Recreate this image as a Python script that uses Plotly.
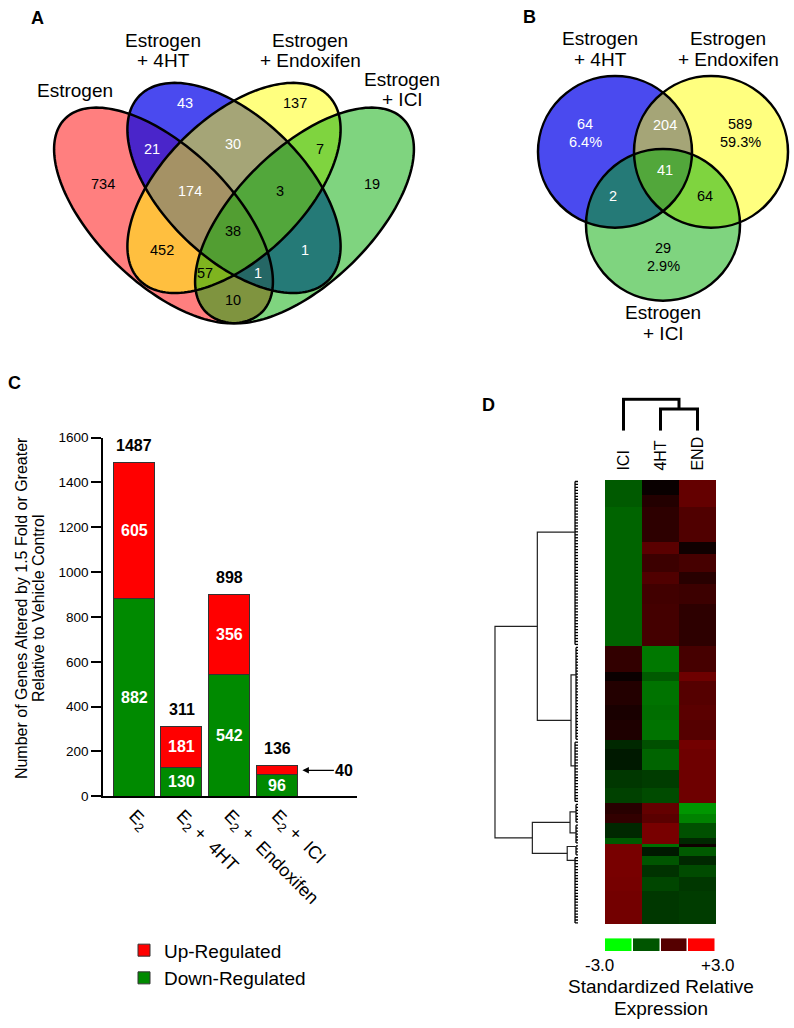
import numpy as np
import plotly.graph_objects as go

W, H = 794, 1028
FONT = "Liberation Sans, Arial, Helvetica, sans-serif"

# ===================== DATA =====================
# Panel A: four-set Venn (counts per region)
venn4_sets = ["Estrogen", "Estrogen<br>+ 4HT", "Estrogen<br>+ Endoxifen", "Estrogen<br>+ ICI"]
venn4_regions = ["E", "4HT", "END", "ICI", "E+4HT", "4HT+END", "END+ICI", "E+END", "4HT+ICI",
                 "E+ICI", "E+4HT+END", "4HT+END+ICI", "E+END+ICI", "E+4HT+ICI", "ALL"]
venn4_counts = [734, 43, 137, 19, 21, 30, 7, 452, 1, 10, 174, 3, 57, 1, 38]

# Panel B: three-set Venn
venn3_sets = ["Estrogen<br>+ 4HT", "Estrogen<br>+ Endoxifen", "Estrogen<br>+ ICI"]
venn3_regions = ["4HT", "4HT+END", "END", "ALL", "4HT+ICI", "END+ICI", "ICI"]
venn3_counts = [64, 204, 589, 41, 2, 64, 29]
venn3_percent = ["6.4%", "", "59.3%", "", "", "", "2.9%"]

# Panel C: stacked bars
treatments = ["E<sub>2</sub>", "E<sub>2</sub> +  4HT", "E<sub>2</sub> +  Endoxifen", "E<sub>2</sub> +  ICI"]
down_regulated = [882, 130, 542, 96]
up_regulated = [605, 181, 356, 40]
count_ticks = [0, 200, 400, 600, 800, 1000, 1200, 1400, 1600]

# Panel D: clustered heatmap (blocks of genes with similar standardized expression)
heat_columns = ["ICI", "4HT", "END"]
block_genes = [5, 4, 12, 4, 6, 4, 7, 14, 9, 3, 8, 5, 7, 3, 7, 6, 5, 4, 3, 5, 2, 1, 3, 3, 4, 5, 11]
ici_expr = [-1.06, -1.06, -1.18, -1.18, -1.18, -1.18, -1.18, -1.18,
            0.59, 0.12, 0.41, 0.29, 0.35, -0.47, -0.29, -0.65, -0.76,
            0.47, 0.59, -0.47, -1.06, 1.41, 1.41, 1.41, 1.41, 1.39, 1.35]
hht_expr = [0.10, 0.41, 0.53, 1.06, 0.71, 0.94, 0.76, 0.80,
            -1.41, -1.06, -1.35, -1.29, -1.35, -0.94, -1.18, -0.71, -0.88,
            1.18, 1.06, 1.41, 1.41, -1.29, -0.29, -1.00, -0.59, -0.82, -0.65]
end_expr = [1.18, 1.18, 0.94, 0.18, 0.82, 0.47, 0.71, 0.53,
            0.82, 1.29, 1.00, 1.06, 1.00, 1.35, 1.29, 1.29, 1.29,
            -1.76, -1.53, -0.94, -0.47, 0.18, -1.06, -0.47, -0.88, -0.65, -0.71]
colour_key = [-3.0, -1.0, 1.0, 3.0]

# row dendrogram: leaf groups (first block, last block), their merge height and node position (gene index)
row_group_first = [0, 8, 13, 17, 19, 21, 23]
row_group_last = [7, 12, 16, 18, 20, 22, 26]
row_group_height = [0.036, 0.024, 0.036, 0.024, 0.024, 0.024, 0.036]
row_group_node = [17.1, 65.3, 96.0, 111.5, 118.6, 123.2, 127.9]
row_merges = [(1, 2, 0.084), (3, 4, 0.096), (5, 6, 0.13), (0, 7, 0.49), (8, 9, 0.55), (10, 11, 1.0)]
# column dendrogram merges (ICI=0, 4HT=1, END=2)
col_merges = [(1, 2, 0.6875), (0, 3, 1.0)]

# ===================== FIGURE =====================
fig = go.Figure()
shapes = []
annotations = []


def px_ann(x, y, text, size, color="black", bold=False, gap=None, **kw):
    lines = text.split("<br>")
    if gap is None:
        gap = size * 1.12
    y0 = y - gap * (len(lines) - 1) / 2
    for k, line in enumerate(lines):
        t = "<b>" + line + "</b>" if bold else line
        d = dict(x=x, y=y0 + k * gap, xref="x", yref="y", text=t, showarrow=False,
                 font=dict(family=FONT, size=size, color=color), xanchor="center", yanchor="middle")
        d.update(kw)
        annotations.append(d)


def ellipse_path(cx, cy, a, b, ang):
    t = np.linspace(0, 2 * np.pi, 181)
    ca, sa = np.cos(np.radians(ang)), np.sin(np.radians(ang))
    xs = cx + a * np.cos(t) * ca - b * np.sin(t) * sa
    ys = cy + a * np.cos(t) * sa + b * np.sin(t) * ca
    return "M " + " L ".join(f"{x:.2f},{y:.2f}" for x, y in zip(xs, ys)) + " Z"


fills = ["rgba(255,0,0,0.5)", "rgba(0,0,232,0.71)", "rgba(255,255,0,0.5)", "rgba(0,170,0,0.5)"]
TOP_SHIFT = -3  # small vertical correction for text in the Venn panels

# ---- Panel A geometry (pixels)
ax0 = 234.0
ell = [(ax0 - 70.5, 211.5, 139, 68, 45), (ax0, 183.6, 133, 71, 45),
       (ax0, 183.6, 133, 71, -45), (ax0 + 70.5, 211.5, 139, 68, -45)]
for (cx, cy, ea, eb, ang), fc in zip(ell, fills):
    shapes.append(dict(type="path", xref="x", yref="y", path=ellipse_path(cx, cy, ea, eb, ang),
                       fillcolor=fc, line=dict(width=0)))
for (cx, cy, ea, eb, ang) in ell:
    shapes.append(dict(type="path", xref="x", yref="y", path=ellipse_path(cx, cy, ea, eb, ang),
                       fillcolor="rgba(0,0,0,0)", line=dict(color="black", width=2.5)))

venn4_pos = [(103, 183), (185, 100), (295, 100), (372, 183), (152, 147), (233, 142), (320, 147),
             (162, 250), (305, 250), (233, 300), (190, 190), (280, 190), (205, 273), (258, 273), (233, 230)]
venn4_white = {"4HT", "E+4HT", "4HT+END", "E+4HT+END", "4HT+ICI", "E+4HT+ICI"}
for reg, cnt, (x, y) in zip(venn4_regions, venn4_counts, venn4_pos):
    px_ann(x, y + TOP_SHIFT, str(cnt), 14.5, "white" if reg in venn4_white else "black")
for name, (x, y) in zip(venn4_sets, [(75, 88), (163, 47), (310, 47), (402, 87)]):
    px_ann(x, y + TOP_SHIFT, name, 19, gap=20.5)

# ---- Panel B geometry
circ = [(615, 147), (711, 147), (663, 221)]
rad = 77
for (cx, cy), fc in zip(circ, fills[1:]):
    shapes.append(dict(type="circle", xref="x", yref="y", x0=cx - rad, x1=cx + rad, y0=cy - rad, y1=cy + rad,
                       fillcolor=fc, line=dict(width=0)))
for (cx, cy) in circ:
    shapes.append(dict(type="circle", xref="x", yref="y", x0=cx - rad, x1=cx + rad, y0=cy - rad, y1=cy + rad,
                       fillcolor="rgba(0,0,0,0)", line=dict(color="black", width=2.5)))
venn3_pos = [(585, 131), (665, 123), (740, 131), (665, 168), (613, 195), (705, 195), (663, 257)]
venn3_white = {"4HT", "4HT+END", "ALL", "4HT+ICI"}
for reg, cnt, pct, (x, y) in zip(venn3_regions, venn3_counts, venn3_percent, venn3_pos):
    txt = str(cnt) + ("<br>" + pct if pct else "")
    px_ann(x, y + TOP_SHIFT, txt, 14.5, "white" if reg in venn3_white else "black", gap=18)
for name, (x, y) in zip(venn3_sets, [(600, 46), (728, 46), (663, 324)]):
    px_ann(x, y + TOP_SHIFT, name, 19, gap=21.5)

# panel letters
for letter, (x, y) in zip("ABCD", [(37, 11), (529, 10), (14, 382), (488, 404)]):
    px_ann(x, y, letter, 18, bold=True)

# invisible canvas trace so the pixel axes exist
fig.add_trace(go.Scatter(x=[0], y=[0], mode="markers", marker=dict(opacity=0), showlegend=False,
                         hoverinfo="skip", xaxis="x", yaxis="y"))

# ---- Panel C bars
xpos = list(range(len(treatments)))
bar_w = 0.863
fig.add_trace(go.Bar(x=xpos, y=down_regulated, name="Down-Regulated", width=bar_w,
                     marker=dict(color="#008a00", line=dict(color="#333333", width=1)),
                     xaxis="x2", yaxis="y2"))
fig.add_trace(go.Bar(x=xpos, y=up_regulated, name="Up-Regulated", width=bar_w,
                     marker=dict(color="#ff0000", line=dict(color="#333333", width=1)),
                     xaxis="x2", yaxis="y2"))
totals = [d + u for d, u in zip(down_regulated, up_regulated)]
for i, (d, u, t) in enumerate(zip(down_regulated, up_regulated, totals)):
    annotations.append(dict(x=i, y=t, xref="x2", yref="y2", text=f"<b>{t}</b>", showarrow=False,
                            yanchor="bottom", yshift=7, font=dict(family=FONT, size=16, color="black")))
    annotations.append(dict(x=i, y=d / 2, xref="x2", yref="y2", text=f"<b>{d}</b>", showarrow=False,
                            font=dict(family=FONT, size=16, color="white")))
    if u * 0.2275 > 20:
        annotations.append(dict(x=i, y=d + u / 2, xref="x2", yref="y2", text=f"<b>{u}</b>", showarrow=False,
                                font=dict(family=FONT, size=16, color="white")))
    else:
        annotations.append(dict(x=i + bar_w / 2 + 0.1, y=d + u / 2, xref="x2", yref="y2", text=f"<b>{u}</b>",
                                showarrow=True, arrowhead=2, arrowsize=1, arrowwidth=1.3, arrowcolor="black",
                                ax=42, ay=0, font=dict(family=FONT, size=16, color="black")))

# y-title (two lines)
annotations.append(dict(x=21, y=610, xref="x", yref="y", text="Number of Genes Altered by 1.5 Fold or Greater",
                        textangle=-90, showarrow=False, font=dict(family=FONT, size=16, color="black")))
annotations.append(dict(x=38, y=610, xref="x", yref="y", text="Relative to Vehicle Control",
                        textangle=-90, showarrow=False, font=dict(family=FONT, size=16, color="black")))

# ---- Panel D heatmap
reps = np.array(block_genes)
Z = np.column_stack([np.repeat(ici_expr, reps), np.repeat(hht_expr, reps), np.repeat(end_expr, reps)])
n_rows = Z.shape[0]
cscale = [[0, "rgb(0,255,0)"], [0.5, "rgb(0,0,0)"], [1, "rgb(255,0,0)"]]
fig.add_trace(go.Heatmap(z=Z, x=[0, 1, 2], y=list(range(n_rows)), colorscale=cscale, zmin=-3, zmax=3,
                         showscale=False, xaxis="x3", yaxis="y3", hoverinfo="skip"))

# row dendrogram
starts = np.concatenate([[0], np.cumsum(block_genes)[:-1]])
ends = np.cumsum(block_genes) - 1
cx_, cy_ = [], []
for g in range(len(row_group_node)):
    r0, r1 = int(starts[row_group_first[g]]), int(ends[row_group_last[g]])
    h = row_group_height[g]
    cx_ += [h, h, None]
    cy_ += [r0, r1, None]
    for r in range(r0, r1 + 1):
        cx_ += [h, 0, None]
        cy_ += [r, r, None]
fig.add_trace(go.Scatter(x=cx_, y=cy_, mode="lines", line=dict(color="black", width=1.3),
                         showlegend=False, hoverinfo="skip", xaxis="x5", yaxis="y3"))
node_h = list(row_group_height)
node_y = list(row_group_node)
mx, my = [], []
for c1, c2, h in row_merges:
    mx += [node_h[c1], h, h, node_h[c2], None]
    my += [node_y[c1], node_y[c1], node_y[c2], node_y[c2], None]
    node_h.append(h)
    node_y.append((node_y[c1] + node_y[c2]) / 2)
fig.add_trace(go.Scatter(x=mx, y=my, mode="lines", line=dict(color="#222222", width=1.2),
                         showlegend=False, hoverinfo="skip", xaxis="x5", yaxis="y3"))

# column dendrogram
cnx = [0.0, 1.0, 2.0]
cnh = [0.0, 0.0, 0.0]
dx, dy = [], []
for c1, c2, h in col_merges:
    dx += [cnx[c1], cnx[c1], cnx[c2], cnx[c2], None]
    dy += [cnh[c1], h, h, cnh[c2], None]
    cnx.append((cnx[c1] + cnx[c2]) / 2)
    cnh.append(h)
fig.add_trace(go.Scatter(x=dx, y=dy, mode="lines", line=dict(color="black", width=3),
                         showlegend=False, hoverinfo="skip", xaxis="x4", yaxis="y4"))

for i, name in enumerate(heat_columns):
    annotations.append(dict(x=i, y=473, xref="x3", yref="y", text=name, textangle=-90, showarrow=False,
                            yanchor="bottom", font=dict(family=FONT, size=16, color="black")))

# colour key
fig.add_trace(go.Heatmap(z=[colour_key], x=list(range(len(colour_key))), y=[0], colorscale=cscale,
                         zmin=-3, zmax=3, showscale=False, xgap=1.5, xaxis="x6", yaxis="y6", hoverinfo="skip"))
px_ann(599, 973, "-3.0", 17)
px_ann(718, 973, "+3.0", 17)
px_ann(661, 994, "Standardized Relative", 19)
px_ann(661, 1016, "Expression", 19)

hid = dict(visible=False, showgrid=False, zeroline=False, fixedrange=True)


def fy(top_px, bot_px):
    return [1 - bot_px / H, 1 - top_px / H]


fig.update_layout(
    width=W, height=H, autosize=False,
    margin=dict(l=0, r=0, t=0, b=0, pad=0),
    paper_bgcolor="white", plot_bgcolor="white",
    font=dict(family=FONT, color="black"),
    barmode="stack", bargap=0,
    shapes=shapes, annotations=annotations,
    xaxis=dict(domain=[0, 1], range=[0, W], **hid),
    yaxis=dict(domain=[0, 1], range=[H, 0], **hid),
    xaxis2=dict(domain=[103 / W, 357 / W], range=[-0.66, 4.68], anchor="y2", showline=True,
                linecolor="black", linewidth=1.5, ticks="", tickvals=xpos, ticktext=treatments,
                tickangle=45, tickfont=dict(family=FONT, size=18, color="black"),
                showgrid=False, zeroline=False, fixedrange=True),
    yaxis2=dict(domain=fy(437, 801), range=[0, 1600], anchor="x2", showline=True, linecolor="black",
                linewidth=1.5, ticks="outside", ticklen=10, tickwidth=1.5, tickcolor="black",
                tickvals=count_ticks, tickfont=dict(family=FONT, size=13.5, color="black"),
                showgrid=False, zeroline=False, fixedrange=True),
    xaxis3=dict(domain=[605 / W, 716 / W], range=[-0.5, 2.5], anchor="y3", **hid),
    yaxis3=dict(domain=fy(480, 931), range=[n_rows - 0.5, -0.5], anchor="x3", **hid),
    xaxis4=dict(domain=[605 / W, 716 / W], range=[-0.5, 2.5], anchor="y4", **hid),
    yaxis4=dict(domain=fy(396, 430), range=[0, 1.0625], anchor="x4", **hid),
    xaxis5=dict(domain=[493 / W, 580 / W], range=[1.024, -0.024], anchor="y3", **hid),
    xaxis6=dict(domain=[605 / W, 716 / W], range=[-0.5, 3.5], anchor="y6", **hid),
    yaxis6=dict(domain=fy(945, 958), range=[-0.5, 0.5], anchor="x6", **hid),
    legend=dict(x=124 / W, y=1 - 938 / H, xanchor="left", yanchor="top", traceorder="reversed",
                font=dict(family=FONT, size=19, color="black"), bgcolor="rgba(0,0,0,0)",
                itemclick=False, itemdoubleclick=False),
    showlegend=True,
)

fig.write_html("out.html", config={"displayModeBar": False},
               post_script="document.body.style.margin='0';")
